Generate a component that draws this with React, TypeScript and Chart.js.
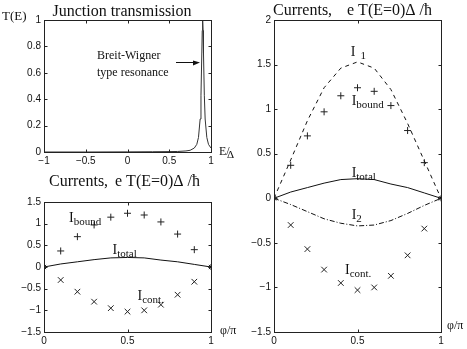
import { useEffect, useRef } from "react";
import { Chart, registerables } from "chart.js";

Chart.register(...registerables);

// ---------- data ----------
const energy = [-1, -0.5, 0, 0.3, 0.5, 0.6, 0.7, 0.75, 0.8, 0.83, 0.85, 0.87, 0.88, 0.89, 0.895, 0.9, 0.905, 0.91, 0.92, 0.93, 0.95, 0.97, 1];
const transmission = [0, 0, 0.001, 0.002, 0.003, 0.004, 0.008, 0.013, 0.03, 0.058, 0.11, 0.25, 0.43, 0.75, 0.92, 1, 0.92, 0.75, 0.43, 0.25, 0.11, 0.058, 0.03];

const phiFull = [0, 0.1, 0.2, 0.3, 0.4, 0.5, 0.6, 0.7, 0.8, 0.9, 1];
const phiInner = [0.1, 0.2, 0.3, 0.4, 0.5, 0.6, 0.7, 0.8, 0.9];
const boundCurrent = [0.37, 0.7, 0.97, 1.15, 1.24, 1.2, 1.04, 0.76, 0.4];
const contCurrent = [-0.3, -0.57, -0.8, -0.95, -1.03, -1.0, -0.87, -0.64, -0.34];
const totalCurrent = [0, 0.07, 0.12, 0.17, 0.21, 0.22, 0.21, 0.16, 0.12, 0.06, 0];
const current1 = [0, 0.43, 0.87, 1.24, 1.46, 1.53, 1.46, 1.22, 0.84, 0.42, 0];
const current2 = [0, -0.07, -0.15, -0.23, -0.28, -0.31, -0.3, -0.25, -0.17, -0.08, 0];
const endPhi = [0, 1];
const endCurrent = [0, 0];

const energyTicks = [-1, 1, 0.5];
const transTicks = [0, 1, 0.2];
const phiTicks = [0, 1, 0.5];
const currentTicksWide = [-1.5, 2, 0.5];
const currentTicksNarrow = [-1.5, 1.5, 0.5];

// ---------- helpers ----------
const W = 467;
const H = 349;
const SERIF = "'Liberation Serif', 'Times New Roman', serif";
const SANS = "'Liberation Sans', Arial, sans-serif";
const INK = "#111";

const pts = (xs: number[], ys: number[]) => xs.map((x, i) => ({ x, y: ys[i] }));

const fmt = (v: number) => {
  const r = Math.round(v * 10) / 10;
  return r < 0 ? "\u2212" + String(-r) : String(r);
};

type Label =
  | { kind: "sub"; main: string; sub: string; dx: number; dy: number; gap?: number; size?: number; subSize?: number; drop?: number }
  | { kind: "px"; text: string; x: number; y: number; size: number; align?: CanvasTextAlign; font?: string }
  | { kind: "arrow"; x1: number; y1: number; x2: number; y2: number };

function drawLabels(chart: any, labels: Label[]) {
  const ctx: CanvasRenderingContext2D = chart.ctx;
  const xs = chart.scales.x;
  const ys = chart.scales.y;
  ctx.save();
  ctx.fillStyle = INK;
  ctx.strokeStyle = INK;
  ctx.textBaseline = "alphabetic";
  for (const l of labels) {
    if (l.kind === "sub") {
      const size = l.size ?? 14;
      const subSize = l.subSize ?? 10;
      const x = xs.getPixelForValue(l.dx);
      const y = ys.getPixelForValue(l.dy);
      ctx.textAlign = "left";
      ctx.font = `${size}px ${SERIF}`;
      ctx.fillText(l.main, x, y);
      const w = ctx.measureText(l.main).width;
      ctx.font = `${subSize}px ${SERIF}`;
      ctx.fillText(l.sub, x + w + (l.gap ?? 0), y + (l.drop ?? 3));
    } else if (l.kind === "px") {
      ctx.textAlign = l.align ?? "left";
      ctx.font = `${l.size}px ${l.font ?? SERIF}`;
      ctx.fillText(l.text, l.x, l.y);
    } else {
      ctx.lineWidth = 1;
      ctx.beginPath();
      ctx.moveTo(l.x1, l.y1 + 0.5);
      ctx.lineTo(l.x2 - 5, l.y2 + 0.5);
      ctx.stroke();
      ctx.beginPath();
      ctx.moveTo(l.x2, l.y2 + 0.5);
      ctx.lineTo(l.x2 - 7, l.y2 - 2 + 0.5);
      ctx.lineTo(l.x2 - 7, l.y2 + 3 + 0.5);
      ctx.closePath();
      ctx.fill();
    }
  }
  ctx.restore();
}

function drawFrame(chart: any) {
  const ctx: CanvasRenderingContext2D = chart.ctx;
  const a = chart.chartArea;
  const L = Math.round(a.left) + 0.5;
  const R = Math.round(a.right) + 0.5;
  const T = Math.round(a.top) + 0.5;
  const B = Math.round(a.bottom) + 0.5;
  ctx.save();
  ctx.strokeStyle = "#222";
  ctx.lineWidth = 1;
  ctx.strokeRect(L, T, R - L, B - T);
  const tl = 3;
  ctx.beginPath();
  for (const t of chart.scales.x.ticks) {
    const px = Math.round(chart.scales.x.getPixelForValue(t.value)) + 0.5;
    ctx.moveTo(px, B);
    ctx.lineTo(px, B - tl);
    ctx.moveTo(px, T);
    ctx.lineTo(px, T + tl);
  }
  for (const t of chart.scales.y.ticks) {
    const py = Math.round(chart.scales.y.getPixelForValue(t.value)) + 0.5;
    ctx.moveTo(L, py);
    ctx.lineTo(L + tl, py);
    ctx.moveTo(R, py);
    ctx.lineTo(R - tl, py);
  }
  ctx.stroke();
  ctx.restore();
}

type Panel = {
  area: { left: number; top: number; right: number; bottom: number };
  xt: number[];
  yt: number[];
  datasets: any[];
  labels: Label[];
};

const lineDs = (data: any[], dash: number[] = []) => ({
  data,
  showLine: true,
  borderColor: INK,
  borderWidth: 1,
  borderDash: dash,
  pointRadius: 0,
  fill: false,
});
const markDs = (data: any[], style: string, r: number) => ({
  data,
  showLine: false,
  pointStyle: style,
  pointRadius: r,
  borderColor: "#222",
  borderWidth: 1,
  backgroundColor: "transparent",
});

const YW = 40;
const XH = 16;

function makeConfig(p: Panel): any {
  const tickFont = { family: SANS, size: 10 };
  return {
    type: "scatter",
    data: { datasets: p.datasets },
    options: {
      animation: false,
      responsive: false,
      events: [],
      layout: {
        padding: {
          left: p.area.left - YW,
          top: p.area.top,
          right: W - p.area.right,
          bottom: H - p.area.bottom - XH,
        },
      },
      plugins: { legend: { display: false }, tooltip: { enabled: false }, title: { display: false } },
      scales: {
        x: {
          type: "linear",
          min: p.xt[0],
          max: p.xt[1],
          grid: { display: false, drawTicks: false },
          border: { display: false },
          ticks: { stepSize: p.xt[2], font: tickFont, color: INK, padding: 3, maxRotation: 0, autoSkip: false, callback: (v: number) => fmt(v) },
          afterFit: (s: any) => {
            s.height = XH;
            s.paddingLeft = 0;
            s.paddingRight = 0;
          },
        },
        y: {
          type: "linear",
          min: p.yt[0],
          max: p.yt[1],
          grid: { display: false, drawTicks: false },
          border: { display: false },
          ticks: { stepSize: p.yt[2], font: tickFont, color: INK, padding: 3, autoSkip: false, callback: (v: number) => fmt(v) },
          afterFit: (s: any) => {
            s.width = YW;
            s.paddingTop = 0;
            s.paddingBottom = 0;
          },
        },
      },
    },
    plugins: [
      {
        id: "decor",
        afterDraw: (chart: any) => {
          drawFrame(chart);
          drawLabels(chart, p.labels);
        },
      },
    ],
  };
}

const panels: Panel[] = [
  {
    area: { left: 44, top: 20, right: 211, bottom: 152 },
    xt: energyTicks,
    yt: transTicks,
    datasets: [{ ...lineDs(pts(energy, transmission)), borderColor: "#333" }],
    labels: [
      { kind: "px", text: "Junction transmission", x: 122, y: 16, size: 16, align: "center" },
      { kind: "px", text: "T(E)", x: 2, y: 20, size: 13 },
      { kind: "px", text: "Breit-Wigner", x: 97, y: 59, size: 12 },
      { kind: "px", text: "type resonance", x: 97, y: 76, size: 12 },
      { kind: "arrow", x1: 176, y1: 62, x2: 200, y2: 62 },
      { kind: "px", text: "E/", x: 219, y: 155, size: 12 },
      { kind: "px", text: "\u0394", x: 227, y: 158, size: 11 },
    ],
  },
  {
    area: { left: 274, top: 20, right: 441, bottom: 332 },
    xt: phiTicks,
    yt: currentTicksWide,
    datasets: [
      lineDs(pts(phiFull, current1), [4, 4]),
      lineDs(pts(phiFull, current2), [5, 2, 1, 2]),
      lineDs(pts(phiFull, totalCurrent)),
      markDs(pts(phiInner, boundCurrent), "cross", 3.5),
      markDs(pts(phiInner, contCurrent), "crossRot", 4),
      markDs(pts(endPhi, endCurrent), "star", 3),
    ],
    labels: [
      { kind: "px", text: "Currents,", x: 273, y: 15, size: 16 },
      { kind: "px", text: "e T(E=0)\u0394 /\u0127", x: 347, y: 15, size: 16 },
      { kind: "sub", main: "I", sub: "1", dx: 0.46, dy: 1.6, gap: 5, drop: 3, size: 14, subSize: 11 },
      { kind: "sub", main: "I", sub: "bound", dx: 0.465, dy: 1.05, size: 14, subSize: 11 },
      { kind: "sub", main: "I", sub: "total", dx: 0.465, dy: 0.24, size: 14, subSize: 11 },
      { kind: "sub", main: "I", sub: "2", dx: 0.465, dy: -0.23, size: 14, subSize: 11 },
      { kind: "sub", main: "I", sub: "cont.", dx: 0.425, dy: -0.85, size: 14, subSize: 11 },
      { kind: "px", text: "\u03c6/\u03c0", x: 447, y: 329, size: 12 },
    ],
  },
  {
    area: { left: 44, top: 202, right: 211, bottom: 332 },
    xt: phiTicks,
    yt: currentTicksNarrow,
    datasets: [
      lineDs(pts(phiFull, totalCurrent)),
      markDs(pts(phiInner, boundCurrent), "cross", 3.5),
      markDs(pts(phiInner, contCurrent), "crossRot", 4),
      markDs(pts(endPhi, endCurrent), "star", 3),
    ],
    labels: [
      { kind: "px", text: "Currents,", x: 49, y: 186, size: 16 },
      { kind: "px", text: "e T(E=0)\u0394 /\u0127", x: 115, y: 186, size: 16 },
      { kind: "sub", main: "I", sub: "bound", dx: 0.15, dy: 1.05, size: 14, subSize: 11 },
      { kind: "sub", main: "I", sub: "total", dx: 0.41, dy: 0.3, size: 14, subSize: 11 },
      { kind: "sub", main: "I", sub: "cont.", dx: 0.56, dy: -0.76, size: 14, subSize: 11 },
      { kind: "px", text: "\u03c6/\u03c0", x: 220, y: 334, size: 12 },
    ],
  },
];

function PanelCanvas({ panel }: { panel: Panel }) {
  const ref = useRef<HTMLCanvasElement | null>(null);
  useEffect(() => {
    if (!ref.current) return;
    const chart = new Chart(ref.current, makeConfig(panel));
    return () => chart.destroy();
  }, [panel]);
  return (
    <canvas
      ref={ref}
      width={W}
      height={H}
      style={{ position: "absolute", left: 0, top: 0, width: W, height: H }}
    />
  );
}

export default function App() {
  return (
    <div style={{ position: "fixed", left: 0, top: 0, width: W, height: H, background: "#fff", overflow: "hidden" }}>
      {panels.map((p, i) => (
        <PanelCanvas key={i} panel={p} />
      ))}
    </div>
  );
}
